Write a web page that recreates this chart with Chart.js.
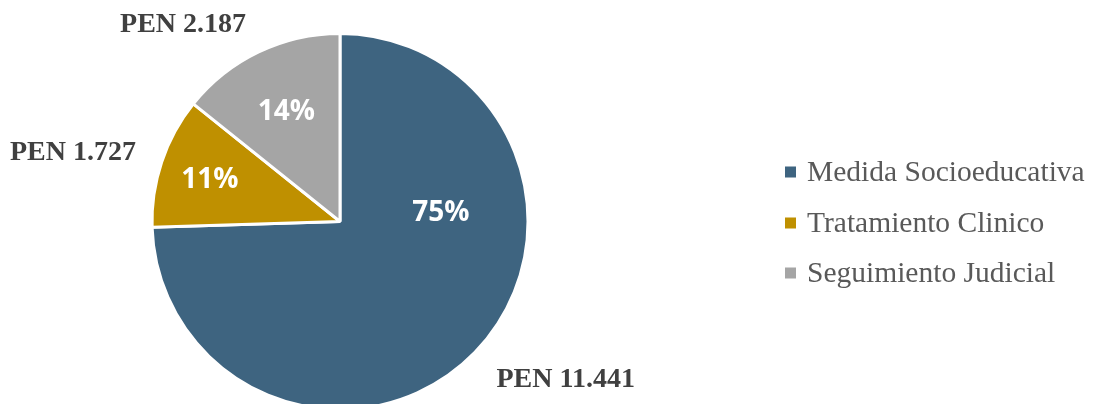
<!DOCTYPE html>
<html>
<head>
<meta charset="utf-8">
<script src="https://cdn.jsdelivr.net/npm/chart.js@4.4.1/dist/chart.umd.min.js"></script>
<style>
  html, body { margin: 0; padding: 0; background: #fff; }
  #wrap { width: 1095px; height: 404px; overflow: hidden; position: relative; }
  #box { width: 1095px; height: 444px; position: absolute; left: 0; top: 0; }
</style>
</head>
<body>
<div id="wrap"><div id="box"><canvas id="graficoTorta"></canvas></div></div>
<script>
const categorias = ["Medida Socioeducativa", "Tratamiento Clinico", "Seguimiento Judicial"];
const valores = [11441, 1727, 2187];
const colores = ["#3E6480", "#BF9000", "#A5A5A5"];

// where the % text sits inside each slice (angle in degrees, fraction of radius)
const posPorcentaje = [{ ang: -6, r: 0.54 }, { r: 0.73 }, { r: 0.66 }];

function formatoPEN(v) {
    return "PEN " + v.toString().replace(/\B(?=(\d{3})+(?!\d))/g, ".");
}

const etiquetas = {
    id: "etiquetas",
    afterDatasetsDraw(chart) {
        const ctx = chart.ctx;
        const meta = chart.getDatasetMeta(0);
        const total = valores.reduce((a, b) => a + b, 0);
        ctx.save();
        meta.data.forEach((arc, i) => {
            const p = arc.getProps(["x", "y", "startAngle", "endAngle", "outerRadius"], true);
            const mid = (p.startAngle + p.endAngle) / 2;
            const cos = Math.cos(mid), sin = Math.sin(mid);

            // porcentaje dentro
            const cfg = posPorcentaje[i];
            const a = cfg.ang !== undefined ? cfg.ang * Math.PI / 180 : mid;
            const px = p.x + Math.cos(a) * p.outerRadius * cfg.r;
            const py = p.y + Math.sin(a) * p.outerRadius * cfg.r + 2;
            ctx.fillStyle = "#ffffff";
            ctx.font = "bold 28px 'Open Sans'";
            ctx.textAlign = "center";
            ctx.textBaseline = "middle";
            ctx.fillText(Math.round(valores[i] / total * 100) + "%", px, py);

            // valor fuera
            const d = p.outerRadius + 30;
            const ox = p.x + cos * d + (cos < 0 ? 4 * (1 + sin) : 0);
            const oy = p.y + sin * d + Math.max(0, sin) * 10;
            ctx.fillStyle = "#404040";
            ctx.font = "bold 28px 'Liberation Serif'";
            ctx.textAlign = cos < 0 ? "right" : "left";
            ctx.fillText(formatoPEN(valores[i]), ox, oy);
        });

        // leyenda
        const lx = chart.chartArea.right + 105;
        const filas = [172, 223, 273];
        ctx.font = "29.5px 'Liberation Serif'";
        ctx.textAlign = "left";
        ctx.textBaseline = "middle";
        categorias.forEach((c, i) => {
            ctx.fillStyle = colores[i];
            ctx.fillRect(lx, filas[i] - 5.5, 11, 11);
            ctx.fillStyle = "#595959";
            ctx.fillText(c, lx + 22, filas[i] + 1);
        });
        ctx.restore();
    }
};

new Chart(document.getElementById("graficoTorta"), {
    type: "pie",
    data: {
        labels: categorias,
        datasets: [{
            data: valores,
            backgroundColor: colores,
            borderColor: "#ffffff",
            borderWidth: 3
        }]
    },
    options: {
        responsive: true,
        maintainAspectRatio: false,
        animation: false,
        layout: { padding: { left: 0, right: 415, top: 32, bottom: 33 } },
        plugins: {
            legend: { display: false },
            tooltip: { enabled: false }
        }
    },
    plugins: [etiquetas]
});
</script>
</body>
</html>
